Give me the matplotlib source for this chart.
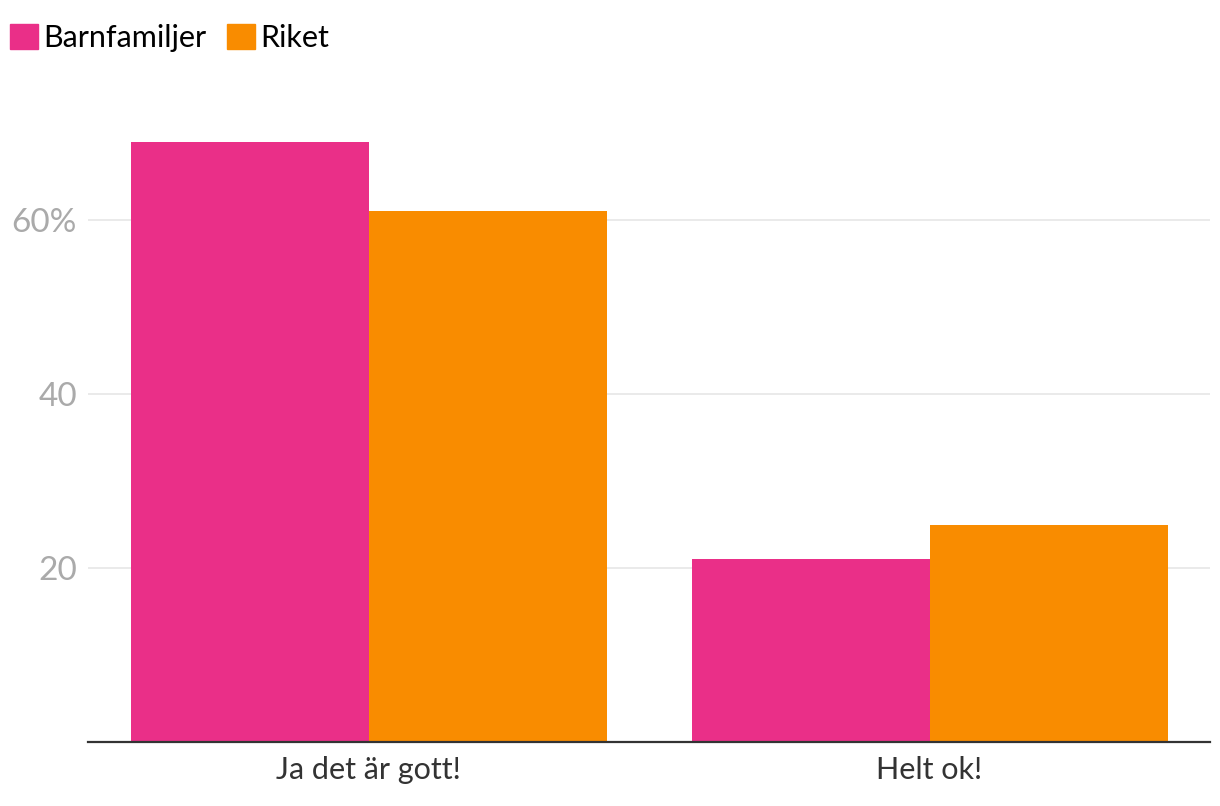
import matplotlib.pyplot as plt
import numpy as np
from matplotlib.patches import Patch

plt.rcParams['font.family'] = ['Lato', 'DejaVu Sans']

categories = ["Ja det är gott!", "Helt ok!"]
series_names = ["Barnfamiljer", "Riket"]
barnfamiljer = [69, 21]
riket = [61, 25]
y_ticks = [20, 40, 60]
y_tick_labels = ["20", "40", "60%"]

colors = ["#EA2F88", "#F98C00"]

fig = plt.figure(figsize=(12.2, 8.06), dpi=100)
ax = fig.add_axes([88 / 1220, 64 / 806, 1122 / 1220, 696 / 806])

x = np.arange(len(categories))
w = 238 / 561
ax.bar(x - w / 2, barnfamiljer, width=w, color=colors[0], zorder=2)
ax.bar(x + w / 2, riket, width=w, color=colors[1], zorder=2)

ax.set_xlim(-0.5, 1.5)
ax.set_ylim(0, 80)
ax.set_xticks(x)
ax.set_xticklabels(categories, fontsize=22, color="#333333")
ax.set_yticks(y_ticks)
ax.set_yticklabels(y_tick_labels, fontsize=24, color="#AAAAAA")
ax.tick_params(axis='both', length=0)
ax.tick_params(axis='x', pad=10)
ax.tick_params(axis='y', pad=8)
ax.grid(axis='y', color="#E6E6E6", linewidth=1.2, zorder=0)
for s in ["top", "right", "left"]:
    ax.spines[s].set_visible(False)
ax.spines["bottom"].set_color("#333333")
ax.spines["bottom"].set_linewidth(1.6)
ax.spines["bottom"].set_zorder(3)

handles = [Patch(color=c, label=n) for c, n in zip(colors, series_names)]
fig.legend(handles=handles, loc="upper left", bbox_to_anchor=(4 / 1220, 1 - 18 / 806),
           ncol=2, frameon=False, fontsize=22, handlelength=0.9, handleheight=0.9,
           handletextpad=0.17, columnspacing=0.7, borderaxespad=0, borderpad=0.2)

fig.savefig("out.png", dpi=100)
